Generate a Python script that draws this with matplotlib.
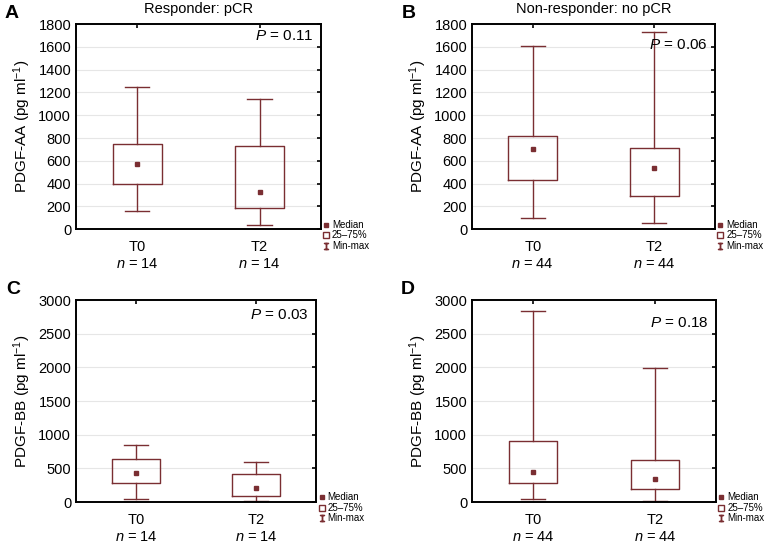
import matplotlib
matplotlib.use("Agg")
import matplotlib.pyplot as plt
from matplotlib.lines import Line2D

plt.rcParams['font.family'] = ['Liberation Sans', 'DejaVu Sans']
plt.rcParams['mathtext.fontset'] = 'custom'
plt.rcParams['mathtext.rm'] = 'Liberation Sans'
plt.rcParams['mathtext.it'] = 'Liberation Sans:italic'

groups = ["T0", "T2"]
panel_letters = ["A", "B", "C", "D"]
titles = ["Responder: pCR", "Non-responder: no pCR", "", ""]
ylabels = ["PDGF-AA", "PDGF-AA", "PDGF-BB", "PDGF-BB"]
n_values = [14, 44, 14, 44]
p_values = ["0.11", "0.06", "0.03", "0.18"]
p_ypos = [0.94, 0.90, 0.925, 0.886]

# min, q1, median, q3, max per group (T0, T2)
mins = [[155, 40], [95, 55], [50, 10], [50, 10]]
q1s = [[400, 190], [430, 290], [285, 95], [280, 195]]
medians = [[575, 330], [700, 540], [430, 205], [450, 340]]
q3s = [[745, 730], [820, 715], [635, 410], [910, 620]]
maxs = [[1245, 1140], [1610, 1735], [850, 590], [2840, 1990]]

ymax = [1800, 1800, 3000, 3000]
ystep = [200, 200, 500, 500]

axes_rects = [
    [0.0987, 0.578, 0.318, 0.3775],
    [0.613, 0.578, 0.3156, 0.3775],
    [0.0987, 0.0755, 0.312, 0.372],
    [0.613, 0.0755, 0.317, 0.372],
]

col = "#7a2e32"

fig = plt.figure(figsize=(7.7, 5.43), dpi=100)

for i in range(4):
    ax = fig.add_axes(axes_rects[i])
    stats = []
    for j, g in enumerate(groups):
        stats.append(dict(med=medians[i][j], q1=q1s[i][j], q3=q3s[i][j],
                          whislo=mins[i][j], whishi=maxs[i][j], label=g))
    ax.bxp(stats, positions=[0, 1], widths=0.4, showfliers=False,
           boxprops=dict(color=col, linewidth=1.0),
           whiskerprops=dict(color=col, linewidth=1.0),
           capprops=dict(color=col, linewidth=1.0),
           medianprops=dict(linestyle='none'),
           capwidths=0.2)
    ax.plot([0, 1], medians[i], linestyle='none', marker='s', markersize=2.3,
            color=col)

    ax.set_xlim(-0.5, 1.5)
    ax.set_ylim(0, ymax[i])
    ax.set_yticks(range(0, ymax[i] + 1, ystep[i]))
    ax.set_xticks([0, 1])
    ax.set_xticklabels([f"{g}\n$n$ = {n_values[i]}" for g in groups],
                       fontsize=10.5, linespacing=1.25)
    ax.tick_params(axis='y', labelsize=10.5, direction='in', left=False,
                   right=True, length=3, width=1.2)
    ax.tick_params(axis='x', direction='in', bottom=False, top=True,
                   length=3, width=1.2, pad=8)
    ax.yaxis.grid(True, color='#e6e6e6', linewidth=0.8)
    ax.set_axisbelow(True)
    for s in ax.spines.values():
        s.set_linewidth(1.4)

    ax.set_ylabel(f"{ylabels[i]} (pg ml$^{{-1}}$)", fontsize=11)
    if titles[i]:
        ax.set_title(titles[i], fontsize=10.5, pad=8)
    ax.text(0.97, p_ypos[i], f"$P$ = {p_values[i]}", transform=ax.transAxes,
            ha='right', va='center', fontsize=11)
    ax.text(-0.29, 1.01, panel_letters[i], transform=ax.transAxes,
            fontsize=14, fontweight='bold', va='bottom', ha='left')

    handles = [
        Line2D([], [], linestyle='none', marker='s', markersize=2.3, color=col),
        Line2D([], [], linestyle='none', marker='s', markersize=5,
               markerfacecolor='white', markeredgecolor=col),
        Line2D([], [], linestyle='none', marker='$\\mathtt{I}$', markersize=5,
               color=col),
    ]
    ax.legend(handles, ["Median", "25\u201375%", "Min-max"],
              loc='lower left', bbox_to_anchor=(0.99, -0.13), frameon=False,
              fontsize=7, handlelength=0.6, handletextpad=0.3,
              labelspacing=0.05, borderpad=0)

fig.savefig("out.png", dpi=100)
